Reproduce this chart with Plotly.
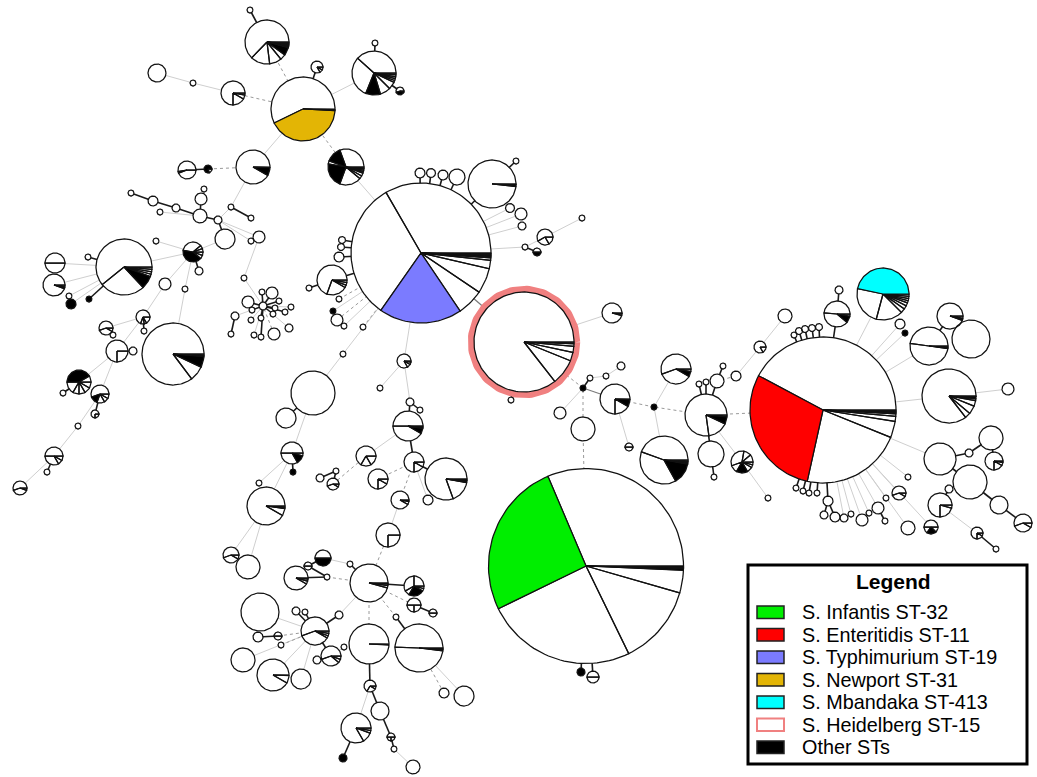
import math
import plotly.graph_objects as go

# ---------------- data ----------------
# node records: (name, x, y, radius, pie-spec "startAngle:colour,...")
# colours: w white, k other STs, g Infantis, r Enteritidis, b Typhimurium, y Newport, c Mbandaka
NEWPORT_NODES = [
    ("N1", 303, 109, 32, "0:w,206:y,357:k,359:w"),
    ("N2", 267, 42, 22, "0:w,226:w,277:w,309:w,324:k,345:w,348:w,351:w,354:w,357:w"),
    ("N3", 250, 10, 3, ""),
    ("N4", 317, 67, 6, "0:w,300:w,330:w"),
    ("N5", 157, 73, 9, ""),
    ("N6", 193, 83, 3, ""),
    ("N7", 233, 93, 12, "0:w,270:w,330:w,350:w"),
    ("N8", 374, 73, 22, "0:w,138:w,248:k,287:w,315:w,335:w,340:w,345:w,350:w,355:w"),
    ("N9", 375, 43, 3, ""),
    ("N10", 400, 91, 4, "0:w,200:k,340:w"),
    ("N11", 346, 167, 18, "0:w,110:k,160:w,170:k,250:w,320:w,330:w,340:w,345:w,350:w,355:w"),
    ("N12", 253, 167, 17, "0:w,330:k,358:w"),
    ("N13", 187, 170, 9, "0:w,190:w,200:w"),
    ("N14", 208, 169, 4, "0:k,290:w"),
]
UPPER_LEFT_NODES = [
    ("C1", 131, 193, 3, ""), ("C2", 153, 201, 5, ""), ("C3", 176, 208, 4, ""),
    ("C4", 160, 212, 3, ""), ("C5", 201, 199, 6, ""), ("C6", 204, 189, 3, ""),
    ("C7", 200, 216, 7, ""), ("C8", 218, 220, 4, ""), ("C9", 231, 207, 3, ""),
    ("C10", 251, 218, 3, ""), ("C11", 259, 237, 6, ""), ("C12", 251, 241, 3, ""),
    ("C13", 225, 239, 10, ""), ("C14", 156, 241, 3, ""),
    ("N15", 193, 252, 10, "0:w,20:w,40:w,170:k,320:w,340:w"), ("N16", 199, 271, 4, ""),
    ("L1", 124, 267, 28, "0:w,219:w,313:k,340:w,345:w,350:w,355:w"),
    ("L2", 55, 263, 10, "0:w,180:w"),
    ("L3", 54, 285, 11, "0:w,340:w,345:w,350:w"),
    ("L4", 88, 257, 3, ""), ("L5", 69, 296, 3, ""), ("L6", 71, 304, 5, "0:k"),
    ("L7", 89, 299, 3, "0:k"), ("L8", 165, 284, 6, ""), ("L9", 185, 289, 3, ""),
]
LEFT_NODES = [
    ("M1", 143, 317, 7, "0:w,250:w,280:w,300:w"), ("M2", 144, 331, 3, ""),
    ("M3", 106, 328, 7, "0:w,200:w,330:w"), ("M4", 113, 335, 3, ""),
    ("M5", 117, 351, 11, "0:w,270:w"), ("M6", 133, 351, 4, ""),
    ("M7", 173, 354, 31, "0:w,307:w,335:k,355:w,357:w"),
    ("M8", 79, 382, 12, "0:w,30:k,180:w,240:w,270:w,300:w,330:w"), ("M9", 63, 393, 3, ""),
    ("M10", 100, 394, 9, "0:w,200:k,250:w,300:w,330:w"), ("M11", 95, 414, 4, "0:w,270:w"),
    ("M12", 78, 426, 3, ""), ("M13", 54, 456, 9, "0:w,180:w,300:w,330:w"),
    ("M14", 47, 472, 3, ""), ("M15", 20, 488, 7, "0:w,200:w,340:w"),
]
STAR_NODES = [
    ("S0", 263, 306, 4, ""), ("S1", 244, 278, 3, ""), ("S2", 272, 293, 6, ""),
    ("S3", 262, 292, 3, ""), ("S4", 248, 302, 6, ""), ("S5", 279, 301, 3, ""),
    ("S6", 291, 307, 3, ""), ("S7", 285, 312, 3, ""), ("S8", 275, 308, 3, ""),
    ("S9", 273, 314, 3, ""), ("S10", 252, 310, 3, ""), ("S11", 261, 318, 3, ""),
    ("S12", 251, 320, 3, ""), ("S13", 289, 328, 4, ""), ("S14", 274, 334, 6, ""),
    ("S15", 261, 337, 3, ""), ("S16", 254, 335, 3, ""), ("S17", 235, 316, 4, ""),
    ("S18", 231, 334, 3, ""),
]
TYPHIMURIUM_NODES = [
    ("T", 421, 253, 70, "0:w,120:w,235:b,304:w,326:w,347:w,354:w,356:k,357:w,358:k,359:w"),
    ("T1", 420, 173, 5, ""), ("T2", 431, 173, 4.5, ""), ("T3", 443, 175, 5, ""),
    ("T4", 457, 177, 8, ""),
    ("T5", 492, 184, 24, "0:w,354:k,358:w"), ("T6", 516, 161, 3, ""),
    ("T7", 510, 208, 4.5, ""), ("T8", 521, 214, 6, ""), ("T9", 522, 226, 4, ""),
    ("T10", 545, 237, 8, "0:w,210:w,300:w"), ("T11", 582, 218, 3, ""),
    ("T12", 525, 247, 3, ""), ("T13", 537, 252, 4, "0:w,180:k"),
    ("T14", 342, 240, 3.5, ""), ("T15", 341, 247, 3.5, ""), ("T16", 339, 257, 5, ""),
    ("T17", 332, 280, 15, "0:w,250:w,330:w,340:w,350:w"), ("T18", 309, 288, 3, ""),
    ("T19", 339, 299, 3, ""), ("T20", 333, 311, 3, "0:k"), ("T21", 337, 320, 6, ""),
    ("T22", 344, 326, 3, ""), ("T23", 363, 327, 3, ""), ("X3", 343, 354, 3, ""),
]
HEIDELBERG_NODES = [
    ("H", 524, 342, 50, "0:w,308:w,338:w,348:w,355:w,358:w"),
    ("H1", 511, 400, 3, ""), ("H2", 612, 313, 10, "0:w,345:w,355:w"),
    ("J1", 583, 388, 3, "0:k"), ("J2", 590, 378, 3, ""), ("J3", 606, 376, 3, ""),
    ("J4", 621, 366, 4, ""), ("J5", 560, 413, 6, ""), ("J6", 583, 429, 12, ""),
    ("P1", 615, 399, 15, "0:w,270:w,330:k,358:w"), ("J7", 654, 407, 3, "0:k"),
    ("P2", 629, 447, 4, "0:w,180:w"),
    ("P3", 664, 460, 24, "0:w,160:w,299:k,350:w,353:w,356:w"),
    ("P4", 676, 369, 15, "0:w,200:w,330:k,350:w"),
]
ENTERITIDIS_NODES = [
    ("EN", 823, 410, 73, "0:w,152:r,257.5:w,338:w,351:w,355:w,357:k,358:w,359:k"),
    ("E1", 706, 415, 21, "0:w,278:w,335:k,355:w"),
    ("E2", 717, 381, 7, ""), ("E3", 723, 366, 3, ""), ("E4", 699, 384, 3, ""),
    ("E5", 706, 382, 3, ""), ("E6", 711, 454, 13, ""), ("E7", 714, 477, 3, ""),
    ("E8", 742, 462, 11, "0:w,40:w,80:w,200:w,240:k,300:w,330:w,345:w"),
    ("E9", 768, 498, 3, ""), ("E10", 736, 376, 5, ""), ("E11", 760, 347, 6, "0:w,300:w"),
    ("E12", 785, 316, 7, ""),
    ("EN1", 794, 335, 3, ""), ("EN2", 799, 331, 3.5, ""), ("EN3", 805, 329, 3.5, ""),
    ("EN4", 812, 328, 3.5, ""), ("EN5", 819, 327, 3.5, ""),
    ("Q1", 837, 314, 13, "0:w,175:w,320:k,350:w"), ("Q2", 839, 290, 4, ""),
    ("CY", 883, 294, 26, "0:c,168:w,255:w,315:w,325:w,333:w,340:w,345:w,350:w,355:w"),
    ("Q3", 900, 324, 5, ""), ("Q4", 905, 333, 3, "0:k"),
    ("R1", 929, 346, 19, "0:w,172:w,352:k,355:w"),
    ("R2", 950, 316, 13, "0:w,340:w,345:w,350:w"), ("R3", 971, 339, 19, ""),
    ("R4", 949, 396, 27, "0:w,308:w,320:w,338:w,350:w,354:k,358:w"), ("R5", 1008, 389, 6, ""),
    ("U1", 940, 459, 16, ""), ("U2", 991, 438, 12, ""), ("U3", 969, 453, 4, ""),
    ("U4", 994, 461, 9, "0:w,270:w,330:w,350:w"), ("U5", 970, 482, 17, ""),
    ("U6", 949, 489, 4, ""), ("U7", 940, 505, 12, "0:w,270:w,345:w"),
    ("U8", 999, 505, 9, ""), ("U9", 1023, 523, 9, "0:w,200:w,330:w"),
    ("U10", 977, 533, 6, "0:w,270:w,330:w"), ("U11", 996, 549, 3, ""),
    ("V1", 796, 488, 3, ""), ("V2", 803, 491, 3, ""), ("V3", 809, 493, 3, ""),
    ("V4", 817, 493, 3, ""), ("V5", 828, 501, 5, ""), ("V6", 824, 515, 4, ""),
    ("V7", 835, 517, 5, ""), ("V8", 844, 518, 4, ""), ("V9", 851, 514, 3, ""),
    ("V10", 862, 520, 6, ""), ("V11", 869, 513, 3, ""), ("V12", 878, 508, 6, ""),
    ("V13", 885, 521, 3, ""), ("V14", 886, 498, 3, ""),
    ("V15", 899, 493, 7, "0:w,200:w,330:w"), ("V16", 908, 477, 3, ""),
    ("V17", 908, 528, 7, ""), ("V18", 931, 527, 7, "0:w,180:w,235:k,315:w"),
]
INFANTIS_NODES = [
    ("G", 586, 566, 97.5, "0:w,113:g,206:w,296:w,344:w,357.5:k,358.5:w,359:k"),
    ("G1", 581, 672, 4, "0:k"), ("G2", 593, 677, 6, "0:w,180:w"),
]
LOWER_NODES = [
    ("K1", 404, 361, 7, "0:w,300:w,330:w,350:w"), ("K2", 380, 388, 3, ""),
    ("K3", 410, 402, 4, ""), ("K4", 420, 410, 3, ""),
    ("K5", 408, 426, 15, "0:w,180:w,330:k,350:w,355:w"),
    ("K6", 414, 462, 10, "0:w,270:w,330:w"),
    ("K7", 446, 479, 21, "0:w,290:w,350:w,352:k,356:w"),
    ("K8", 366, 456, 10, "0:w,240:w,300:w"), ("K9", 378, 479, 10, "0:w,270:w,330:w"),
    ("K10", 400, 500, 9, "0:w,330:w,350:w"), ("K11", 428, 500, 5, ""),
    ("W1", 333, 484, 6, "0:w,200:w,330:w"), ("W2", 336, 471, 3, ""), ("W3", 320, 478, 4, ""),
    ("X1", 313, 393, 22, ""), ("X2", 286, 418, 10, ""),
    ("X4", 292, 453, 11, "0:w,180:w,300:k,345:w"), ("X5", 293, 472, 3, "0:k"),
    ("X6", 259, 483, 3, ""), ("X7", 266, 506, 19, "0:w,330:w,352:k,355:w"),
    ("Y1", 231, 555, 8, "0:w,200:w,330:w"), ("Y2", 248, 567, 12, ""),
    ("Y3", 323, 558, 8, "0:w,180:k"), ("Y4", 308, 566, 4, "0:w,180:w"),
    ("Y5", 296, 578, 12, "0:w,330:w,345:w,355:w"), ("Y6", 327, 577, 3, ""),
    ("Y7", 260, 612, 19, ""), ("Y8", 296, 611, 4, ""), ("Y9", 305, 612, 3, ""),
    ("Y10", 315, 631, 14, "0:w,200:w,330:w,340:w,350:w"), ("Y11", 339, 615, 4, ""),
    ("Y12", 258, 637, 5, ""), ("Y13", 278, 636, 4, "0:w,180:w"), ("Y14", 281, 645, 3, ""),
    ("Y15", 243, 660, 12, ""), ("Y16", 273, 675, 16, "0:w,330:w,358:w"),
    ("Y17", 301, 679, 10, ""), ("Y18", 331, 656, 10, "0:w,200:w,320:w,340:w"),
    ("Y19", 317, 660, 4, ""), ("Y20", 344, 647, 3, ""),
    ("Z0", 350, 564, 3, ""), ("Z1", 369, 583, 19, "0:w,345:w,352:w,357:w"),
    ("Z2", 414, 586, 10, "0:w,90:w,210:w,240:k,330:w,345:w"),
    ("Z3", 414, 605, 7, "0:w,180:w,270:w"), ("Z4", 433, 613, 4, "0:w,180:w"),
    ("Z5", 396, 617, 3, ""), ("Z6", 419, 648, 24, "0:w,178:w,353:k,357:w"),
    ("Z7", 369, 644, 20, "0:w,357:k,359:w"), ("Z8", 388, 535, 12, "0:w,270:w"),
    ("Z9", 370, 686, 6, "0:w,240:w,330:w"), ("Z10", 380, 711, 9, ""),
    ("Z11", 391, 737, 4, "0:w,180:w,270:w"), ("Z12", 394, 749, 3, ""),
    ("Z13", 413, 767, 7, ""), ("Z14", 356, 728, 15, "0:w,300:w,340:w,350:w"),
    ("Z15", 343, 758, 4, "0:k"), ("Z16", 444, 693, 5, ""), ("Z17", 464, 696, 10, ""),
]

# edges: "A-B:style"  (d = short dark link, m = medium grey, l = light grey, s = dashed)
EDGES_TOP = ("N3-N2:d N2-N1:s N4-N1:d N5-N6:l N6-N7:l N7-N1:s N8-N1:l N9-N8:d N10-N8:d "
             "N11-N1:s N12-N1:l N13-N14:d N14-N12:s N11-T:l "
             "C1-C2:d C2-C3:d C3-C7:d C4-C7:l C6-C5:l C5-C7:d C7-C8:d C8-C9:l C9-N12:l "
             "C9-C10:d C8-C11:l C8-C13:d C12-C8:l C13-N15:l C14-N15:l N15-N16:d L1-N15:l")
EDGES_LEFT = ("L2-L1:l L3-L1:l L4-L1:d L5-L1:l L6-L1:l L7-L1:d L8-N15:l L9-N15:l "
              "M1-L8:l M2-M1:d M3-M1:l M4-M3:d M5-M1:l M6-M5:l M7-L9:l M8-M5:l M9-M8:d "
              "M10-M5:l M11-M10:d M12-M10:l M13-M12:l M14-M13:d M15-M13:l "
              "S1-C11:l S1-S0:l S2-S0:d S3-S0:d S4-S0:d S5-S0:d S6-S0:l S7-S0:d S8-S0:d "
              "S9-S0:d S10-S0:d S11-S0:d S12-S0:l S13-S0:l S14-S0:s S15-S0:d S16-S0:l "
              "S17-S0:l S18-S17:d")
EDGES_MID = ("T1-T:d T2-T:d T3-T:d T4-T:d T5-T:d T6-T5:d T7-T:l T8-T:l T9-T:l T12-T:l "
             "T10-T12:l T11-T10:l T13-T12:d T14-T:d T15-T:d T16-T:d T17-T:d T18-T17:d "
             "T19-T:s T20-T:l T21-T:s T22-T:l T23-T:s X3-T:l X1-X3:l "
             "H-T:m H1-H:d H2-H:l J1-H:s J2-J1:d J3-J2:l J4-J3:l J5-J1:l J6-J1:s G-J6:s "
             "P1-J1:m J7-P1:s P2-P1:l P3-J7:l P4-J7:l E1-J7:s E1-EN:s G1-G:d G2-G:d")
EDGES_RIGHT = ("E2-E1:d E3-E2:d E4-E1:d E5-E1:d E6-E1:d E7-E6:d E8-E1:l E9-E8:l E10-E2:s "
               "E11-E10:l E12-E11:l EN1-EN:d EN2-EN:d EN3-EN:d EN4-EN:d EN5-EN:d "
               "Q1-EN:d Q2-Q1:d CY-EN:l Q3-EN:l Q4-EN:l R1-EN:l R2-R1:d R3-R2:d R4-EN:l "
               "R5-R4:l U1-EN:l U3-U1:d U2-U3:d U4-U2:d U5-U1:d U6-U5:l U7-U6:d U8-U5:d "
               "U9-U8:d U10-U7:l U11-U10:d V1-EN:d V2-EN:d V3-EN:d V4-EN:d V5-EN:d "
               "V6-V5:d V7-V5:d V8-EN:l V9-EN:l V10-EN:l V11-EN:l V12-EN:l V13-V12:d "
               "V14-EN:l V15-EN:l V16-EN:l V17-EN:l V18-EN:l")
EDGES_LOW = ("K1-T:l K2-K1:l K3-K1:l K4-K3:d K5-K3:d K6-K5:d K7-K6:d K8-K5:l K9-K6:s "
             "K10-K6:s K11-K6:l W1-K8:s W2-W1:d W3-W2:d X2-X1:d X4-X1:l X5-X4:d X6-X4:l "
             "X7-X4:l Y1-X7:l Y2-X7:l Y3-Z0:l Y4-Y3:d Y6-Y4:d Y5-Y6:d Y6-Z1:s Y7-Y10:l "
             "Y8-Y10:d Y9-Y10:d Y11-Y10:d Y11-Z1:l Y12-Y13:d Y13-Y10:s Y14-Y10:s "
             "Y15-Y10:l Y16-Y10:l Y17-Y10:l Y18-Y10:d Y19-Y18:d Y20-Y18:l "
             "Z0-Z1:d Z2-Z1:d Z3-Z1:s Z4-Z3:d Z5-Z1:s Z6-Z5:d Z7-Z1:s Z8-Z1:s Z8-K10:l "
             "Z9-Z7:d Z10-Z9:d Z11-Z10:d Z12-Z11:d Z13-Z12:l Z14-Z9:l Z15-Z14:d "
             "Z16-Z6:s Z17-Z6:l")

HEIDELBERG_NODE = "H"

LEGEND_LABELS = ["S. Infantis ST-32", "S. Enteritidis ST-11", "S. Typhimurium ST-19",
                 "S. Newport ST-31", "S. Mbandaka ST-413", "S. Heidelberg ST-15", "Other STs"]
LEGEND_KEYS = ["g", "r", "b", "y", "c", "h", "k"]

# ---------------- styles ----------------
COLORS = {"w": "#FFFFFF", "g": "#00EE00", "r": "#FF0000", "b": "#7B7BFF",
          "y": "#E3B505", "c": "#00FFFF", "k": "#000000"}
RING = "#F08080"
EDGE_STYLE = {
    "l": dict(color="#CFCFCF", width=1.0),
    "s": dict(color="#9A9A9A", width=1.0, dash="3px,3px"),
    "m": dict(color="#7A7A7A", width=1.2),
    "d": dict(color="#1A1A1A", width=1.6),
}
FONT = "Liberation Sans, Arial, Helvetica, sans-serif"

ALL_NODES = (NEWPORT_NODES + UPPER_LEFT_NODES + LEFT_NODES + STAR_NODES + TYPHIMURIUM_NODES
             + HEIDELBERG_NODES + ENTERITIDIS_NODES + INFANTIS_NODES + LOWER_NODES)
POS = {n[0]: (n[1], n[2], n[3]) for n in ALL_NODES}
EDGES = " ".join([EDGES_TOP, EDGES_LEFT, EDGES_MID, EDGES_RIGHT, EDGES_LOW]).split()


def parse_slices(spec):
    if not spec:
        return [(0.0, 360.0, "w")]
    parts = sorted((float(a), c) for a, c in (p.split(":") for p in spec.split(",")))
    out = []
    for i, (a, c) in enumerate(parts):
        b = parts[i + 1][0] if i + 1 < len(parts) else parts[0][0] + 360
        out.append((a, b, c))
    return out


def arc(cx, cy, r, a0, a1):
    n = max(2, int(abs(a1 - a0) / 2.5) + 1)
    xs, ys = [], []
    for k in range(n + 1):
        t = math.radians(a0 + (a1 - a0) * k / n)
        xs.append(cx + r * math.cos(t))
        ys.append(cy - r * math.sin(t))
    return xs, ys


fig = go.Figure()

# edges
groups = {k: ([], []) for k in EDGE_STYLE}
for e in EDGES:
    pair, style = e.split(":")
    a, b = pair.split("-")
    xa, ya, _ = POS[a]
    xb, yb, _ = POS[b]
    groups[style][0].extend([xa, xb, None])
    groups[style][1].extend([ya, yb, None])
for style in ["l", "s", "m", "d"]:
    xs, ys = groups[style]
    fig.add_trace(go.Scatter(x=xs, y=ys, mode="lines", line=EDGE_STYLE[style],
                             hoverinfo="skip", showlegend=False))

# Heidelberg ring
hx, hy, hr = POS[HEIDELBERG_NODE]
rx, ry = arc(hx, hy, hr + 3, 0, 360)
fig.add_trace(go.Scatter(x=rx, y=ry, mode="lines", line=dict(color=RING, width=6.5),
                         hoverinfo="skip", showlegend=False))

# pies
polys = {c: ([], []) for c in COLORS}
for name, x, y, r, spec in ALL_NODES:
    sl = parse_slices(spec)
    if len(sl) == 1:
        xs, ys = arc(x, y, r, 0, 360)
        polys[sl[0][2]][0].extend(xs + [None])
        polys[sl[0][2]][1].extend(ys + [None])
    else:
        for a, b, c in sl:
            xs, ys = arc(x, y, r, a, b)
            polys[c][0].extend([x] + xs + [x, None])
            polys[c][1].extend([y] + ys + [y, None])
for c in ["w", "g", "r", "b", "y", "c", "k"]:
    xs, ys = polys[c]
    if not xs:
        continue
    fig.add_trace(go.Scatter(x=xs, y=ys, mode="lines", fill="toself", fillcolor=COLORS[c],
                             line=dict(color="#111111", width=1.25), hoverinfo="skip",
                             showlegend=False))

# legend box
LX0, LY0, LX1, LY1 = 748, 565, 1027, 764
shapes = [dict(type="rect", xref="x", yref="y", x0=LX0, y0=LY0, x1=LX1, y1=LY1,
               line=dict(color="black", width=3), fillcolor="white", layer="above")]
annotations = [dict(x=893, y=581, xref="x", yref="y", text="<b>Legend</b>", showarrow=False,
                    font=dict(family=FONT, size=21, color="black"),
                    xanchor="center", yanchor="middle")]
for i, (lab, key) in enumerate(zip(LEGEND_LABELS, LEGEND_KEYS)):
    yc = 612.3 + i * 22.5
    if key == "h":
        fill, border, bw = "white", RING, 2
    else:
        fill, border, bw = COLORS[key], "#222222", 1.5
    shapes.append(dict(type="rect", xref="x", yref="y", x0=757, x1=784, y0=yc - 6.3, y1=yc + 6.3,
                       line=dict(color=border, width=bw), fillcolor=fill, layer="above"))
    annotations.append(dict(x=800, y=yc, xref="x", yref="y", text=lab, showarrow=False,
                            font=dict(family=FONT, size=19.8, color="black"),
                            xanchor="left", yanchor="middle"))

fig.update_layout(
    width=1037, height=777, margin=dict(l=0, r=0, t=0, b=0),
    paper_bgcolor="white", plot_bgcolor="white", showlegend=False, hovermode=False,
    xaxis=dict(range=[0, 1037], visible=False, fixedrange=True),
    yaxis=dict(range=[777, 0], visible=False, fixedrange=True),
    shapes=shapes, annotations=annotations,
)
fig.write_html("out.html", config={"displayModeBar": False},
               post_script="document.body.style.margin='0';document.body.style.overflow='hidden';")
